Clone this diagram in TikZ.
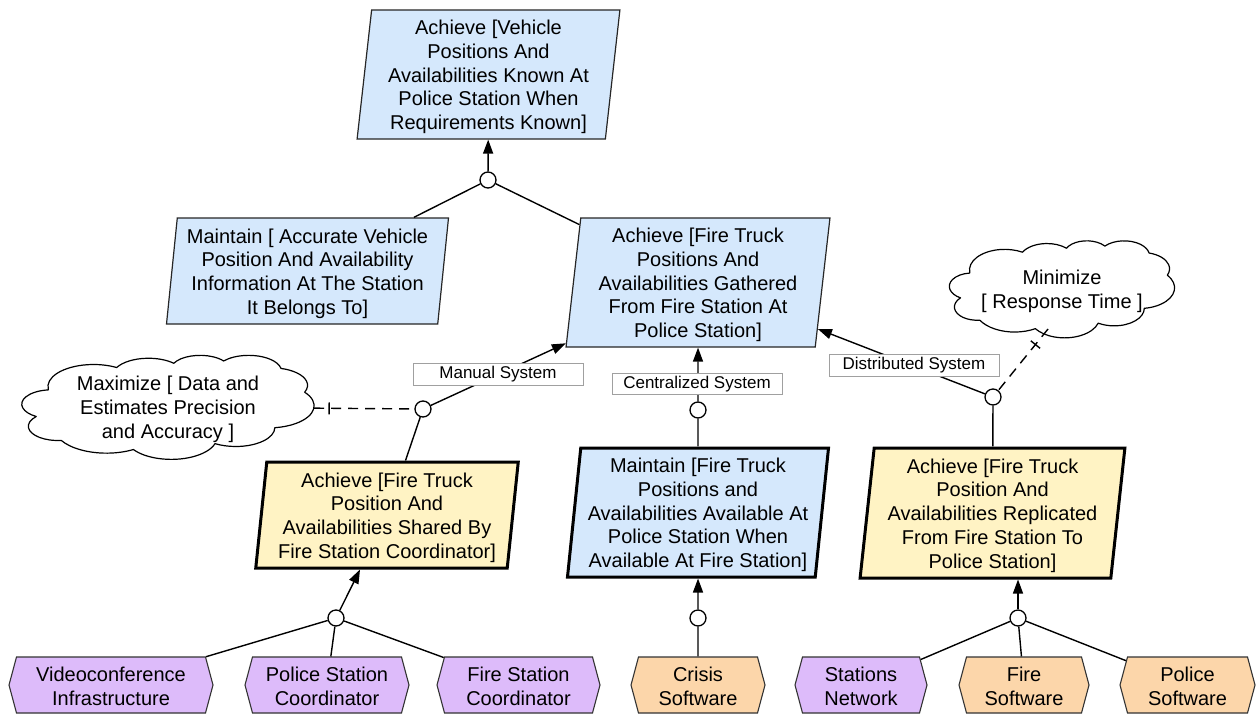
\documentclass[tikz,border=0pt]{standalone}
\usepackage{fontspec}
\setmainfont{Liberation Sans}
\usetikzlibrary{shapes.geometric,shapes.symbols,arrows.meta,decorations.markings}

\definecolor{goalblue}{RGB}{213,232,252}
\definecolor{goalyellow}{RGB}{255,243,196}
\definecolor{agentpurple}{RGB}{221,187,250}
\definecolor{agentorange}{RGB}{252,214,170}
\definecolor{labelgray}{RGB}{160,160,160}

% taller first line, so that multi-line texts sit slightly lower in their shapes
\newcommand\goalstrut{\rule{0pt}{19.6pt}}
\newcommand\agentstrut{\rule{0pt}{17.5pt}}

% elliptical arc given by its visual start angle and sweep (radii a, b)
\newcommand\ovalarc[4]{arc[x radius=#1, y radius=#2,
  start angle={atan2(#1*sin(#3),#2*cos(#3))},
  delta angle={mod(atan2(#1*sin(#3+#4),#2*cos(#3+#4))-atan2(#1*sin(#3),#2*cos(#3))+720,360)}]}
% cloud outline in a 432 x 432 box, y pointing down
\newcommand\cloudoutline{(39.00,143.70)
  \ovalarc{67.53}{91.90}{-190.4875}{123.7805}
  \ovalarc{53.33}{72.67}{-144.1024}{89.9452}
  \ovalarc{43.65}{59.45}{-145.8079}{99.7230}
  \ovalarc{48.57}{65.95}{-130.9861}{117.2417}
  \ovalarc{53.33}{72.73}{-78.7089}{109.0269}
  \ovalarc{67.75}{92.20}{-46.2673}{130.2690}
  \ovalarc{57.85}{78.67}{0.6250}{114.0333}
  \ovalarc{67.52}{92.15}{22.4516}{115.1726}
  \ovalarc{77.20}{105.43}{66.2426}{75.7110}
  \ovalarc{43.60}{59.18}{-274.9421}{146.7356}
  \ovalarc{43.45}{59.45}{-246.8285}{152.5189} -- cycle}

\begin{document}
\begin{tikzpicture}[x=1pt,y=-1pt,
  goaltext/.style={font=\fontsize{20}{23.75}\selectfont},
  goal/.style={trapezium, trapezium left angle=84, trapezium right angle=96,
    trapezium stretches=true, draw=black!85, line width=1.2pt, fill=goalblue,
    align=center, inner sep=0pt, goaltext},
  thickgoal/.style={goal, draw=black, line width=3pt},
  agent/.style={signal, signal to=west and east, signal pointer angle=150,
    draw=black!80, line width=1.1pt, align=center, inner sep=0pt,
    minimum height=56, goaltext},
  softgoal/.style={ellipse, align=center, inner sep=0pt, goaltext},
  cloudline/.style={draw=black, line width=1.2pt, line join=round},
  refine/.style={circle, draw=black, line width=1.3pt, fill=white,
    minimum size=16, inner sep=0pt},
  conn/.style={draw=black, line width=1.4pt},
  arr/.style={conn, -{Triangle[length=14pt,width=10pt]}},
  contrib/.style={conn, dash pattern=on 10pt off 7pt,
    decoration={markings, mark=at position #1 with {\draw[solid, line width=1.4pt] (0,-6pt) -- (0,6pt);}},
    postaction={decorate}},
  altlabel/.style={draw=labelgray, line width=0.9pt, fill=white,
    minimum width=170, inner sep=0pt, font=\fontsize{17}{20}\selectfont}
]
\useasboundingbox (0,0) rectangle (1260,715);

% goals
\node[goal, minimum width=263, minimum height=129] (g0) at (488.5,74.5)
  {\goalstrut Achieve [Vehicle\\Positions And\\Availabilities Known At\\Police Station When\\Requirements Known]};
\node[goal, minimum width=283, minimum height=106] (g1) at (307.5,271)
  {\goalstrut Maintain [ Accurate Vehicle\\Position And Availability\\Information At The Station\\It Belongs To]};
\node[goal, minimum width=264, minimum height=129] (g2) at (698,282.5)
  {\goalstrut Achieve [Fire Truck\\Positions And\\Availabilities Gathered\\From Fire Station At\\Police Station]};
\node[thickgoal, fill=goalyellow, minimum width=263, minimum height=106] (g3) at (387,515)
  {\goalstrut Achieve [Fire Truck\\Position And\\Availabilities Shared By\\Fire Station Coordinator]};
\node[thickgoal, minimum width=262, minimum height=129] (g4) at (698,512.5)
  {\goalstrut Maintain [Fire Truck\\Positions and\\Availabilities Available At\\Police Station When\\Available At Fire Station]};
\node[thickgoal, fill=goalyellow, minimum width=265, minimum height=130] (g5) at (992.5,513)
  {\goalstrut Achieve [Fire Truck\\Position And\\Availabilities Replicated\\From Fire Station To\\Police Station]};

% soft goals (clouds)
\node[softgoal, minimum width=292, minimum height=104] (maxc) at (168,407)
  {\goalstrut Maximize [ Data and\\Estimates Precision\\and Accuracy ]};
\begin{scope}[shift={(maxc.center)}, x=0.67593pt, y=-0.24074pt, shift={(-216,-216)}]
  \draw[cloudline] \cloudoutline;
\end{scope}
\node[softgoal, minimum width=225, minimum height=97] (minc) at (1062,289)
  {\goalstrut Minimize\\{[ Response Time ]}};
\begin{scope}[shift={(minc.center)}, x=0.52083pt, y=-0.22454pt, shift={(-216,-216)}]
  \draw[cloudline] \cloudoutline;
\end{scope}
\coordinate (mintip) at (1048,329);

% refinement circles
\node[refine] (a0) at (488,180) {};
\node[refine] (orM) at (423,409) {};
\node[refine] (orC) at (698,410) {};
\node[refine] (orD) at (993,397) {};
\node[refine] (a1) at (336,618) {};
\node[refine] (a2) at (698,618) {};
\node[refine] (a3) at (1018,618) {};

% agents
\node[agent, fill=agentpurple, minimum width=204] (vc) at (111,685) {\agentstrut Videoconference\\Infrastructure};
\node[agent, fill=agentpurple, minimum width=164] (psc) at (327,685) {\agentstrut Police Station\\Coordinator};
\node[agent, fill=agentpurple, minimum width=163] (fsc) at (518.5,685) {\agentstrut Fire Station\\Coordinator};
\node[agent, fill=agentorange, minimum width=134] (cs) at (698,685) {\agentstrut Crisis\\Software};
\node[agent, fill=agentpurple, minimum width=132] (sn) at (861,685) {\agentstrut Stations\\Network};
\node[agent, fill=agentorange, minimum width=130] (fs) at (1024,685) {\agentstrut Fire\\Software};
\node[agent, fill=agentorange, minimum width=135] (ps) at (1187.5,685) {\agentstrut Police\\Software};

% refinement links
\draw[arr] (a0) -- (g0);
\draw[conn] (a0) -- (g1);
\draw[conn] (a0) -- (g2);

\draw[arr] (orM) -- (g2);
\draw[conn] (orM) -- (g3);
\draw[contrib=15pt] (maxc) -- (orM);

\draw[arr] (orC) -- (g2);
\draw[conn] (orC) -- (g4);

\draw[arr] (orD) -- (g2);
\draw[conn] (orD) -- (g5);
\draw[contrib=20pt] (mintip) -- (orD);

\draw[arr] (a1) -- (g3);
\draw[conn] (a1) -- (vc);
\draw[conn] (a1) -- (psc);
\draw[conn] (a1) -- (fsc);

\draw[arr] (a2) -- (g4);
\draw[conn] (a2) -- (cs);

\draw[arr] (a3) -- (a3 |- g5.south);
\draw[conn] (a3) -- (sn);
\draw[conn] (a3) -- (fs);
\draw[conn] (a3) -- (ps);

% alternative labels
\node[altlabel, minimum height=22] (lm) at (498,374) {Manual System};
\node[altlabel, minimum height=21] (lc) at (697,384) {Centralized System};
\node[altlabel, minimum height=22] (ld) at (914,365) {Distributed System};
\end{tikzpicture}
\end{document}
